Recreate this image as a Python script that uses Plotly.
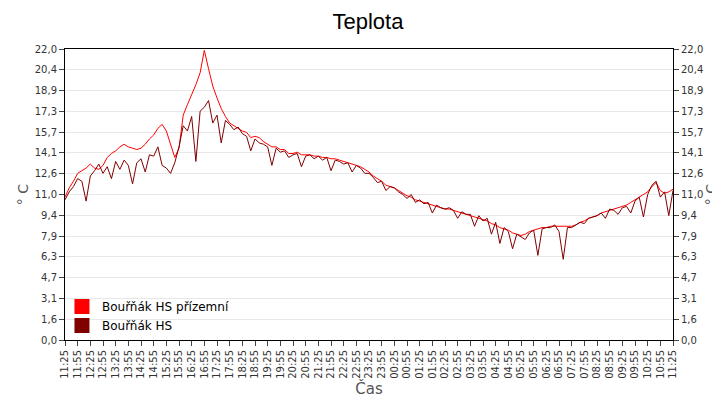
import plotly.graph_objects as go
import pandas as pd

dark = [10.6,11.2,11.6,12.2,12.0,10.5, 12.4,12.8,13.3,12.6,13.1,12.2, 13.5,12.9,13.6,13.2,11.8,13.4,
        13.7,12.7,14.0,13.9,14.6,13.2, 13.0,12.6,13.4,14.6,16.2,15.8, 16.9,13.5,17.3,17.6,18.1,16.4,
        17.0,14.9,16.6,16.3,15.9,16.1, 15.6,15.4,14.3,15.2,14.9,14.8, 14.6,13.2,14.5,14.2,14.3,13.8,
        14.0,14.1,13.1,13.9,14.0,13.7, 13.9,13.6,13.8,12.8,13.6,13.5, 13.3,13.4,12.7,13.2,13.0,12.6,
        12.6,12.3,11.9,12.0,11.3,11.6, 11.5,11.2,11.0,10.7,11.0,10.4, 10.6,10.3,10.4,9.6,10.2,10.0,
        9.9,10.0,9.8,9.2,9.7,9.5, 9.5,8.6,9.4,9.0,9.2,8.0, 8.9,7.3,8.5,8.2,6.9,8.0,
        7.8,7.6,8.1,8.3,6.4,8.4, 8.5,8.5,8.7,8.2,6.1,8.5, 8.5,8.7,8.9,8.8,9.2,9.3,
        9.4,9.6,9.2,9.9,9.8,9.5, 10.0,10.1,9.6,10.5,10.8,9.3, 11.0,11.7,12.0,10.8,11.2,9.4, 11.3]
red = [10.8,11.5,12.0,12.6,12.8,13.0, 13.3,13.0,12.9,13.2,13.8,14.1, 14.3,14.6,14.8,14.6,14.5,14.4,
       14.5,14.8,15.2,15.5,16.0,16.3, 15.8,14.8,13.8,14.5,17.0,17.8, 18.5,19.3,20.2,21.9,20.5,19.2,
       18.3,17.5,16.9,16.4,16.2,16.0, 15.8,15.7,15.3,15.4,15.3,15.0, 14.8,14.6,14.6,14.4,14.4,14.1,
       14.1,14.2,14.0,14.0,14.0,13.9, 13.9,13.8,13.8,13.7,13.7,13.6, 13.5,13.4,13.3,13.2,13.1,12.9,
       12.7,12.4,12.2,12.0,11.7,11.6, 11.5,11.3,11.1,10.9,10.8,10.6, 10.5,10.4,10.3,10.2,10.1,10.0,
       9.9,9.9,9.8,9.7,9.6,9.5, 9.4,9.3,9.2,9.1,9.0,8.8, 8.7,8.5,8.4,8.3,8.1,8.0,
       7.9,8.0,8.2,8.3,8.4,8.5, 8.5,8.6,8.6,8.6,8.6,8.6, 8.6,8.7,8.9,9.0,9.2,9.3,
       9.4,9.6,9.7,9.8,9.9,10.0, 10.1,10.2,10.4,10.6,10.8,11.0, 11.2,11.6,11.9,11.3,11.1,11.2, 11.4]
times = pd.date_range("2020-06-01 11:25", periods=len(dark), freq="10min")
tick_times = pd.date_range("2020-06-01 11:25", "2020-06-02 11:25", freq="30min")
tick_labels = [t.strftime("%H:%M") for t in tick_times]
y_ticks = [0, 1.57, 3.14, 4.71, 6.29, 7.86, 9.43, 11.0, 12.57, 14.14, 15.71, 17.29, 18.86, 20.43, 22.0]
y_labels = ["0,0","1,6","3,1","4,7","6,3","7,9","9,4","11,0","12,6","14,1","15,7","17,3","18,9","20,4","22,0"]
names = ["Bouřňák HS přízemní", "Bouřňák HS"]
colors = ["#ff0000", "#800000"]

fig = go.Figure()
fig.add_trace(go.Scatter(x=times, y=red, mode="lines", line=dict(color=colors[0], width=1), showlegend=False))
fig.add_trace(go.Scatter(x=times, y=dark, mode="lines", line=dict(color=colors[1], width=1), showlegend=False))
for n, c in zip(names, colors):
    fig.add_trace(go.Scatter(x=[None], y=[None], mode="markers", name=n,
                             marker=dict(symbol="square", size=15, color=c)))
fig.add_trace(go.Scatter(x=[times[0]], y=[None], yaxis="y2", showlegend=False))

axfont = dict(family="DejaVu Sans", size=10, color="#333")
fig.update_layout(
    width=720, height=400, plot_bgcolor="white", paper_bgcolor="white",
    margin=dict(l=57, r=55, t=41, b=68),
    title=dict(text="Teplota", x=0.5, xanchor="center", y=0.985, yanchor="top",
               font=dict(family="Liberation Sans", size=22, color="black")),
    font=axfont,
    xaxis=dict(range=[tick_times[0], tick_times[-1]], tickvals=tick_times, ticktext=tick_labels,
               tickangle=-90, ticks="outside", ticklen=5, showgrid=False, showline=True,
               linecolor="black", mirror=True, tickfont=axfont, automargin=False,
               title=dict(text="Čas", font=dict(family="DejaVu Sans", size=15, color="#555"), standoff=5)),
    yaxis=dict(range=[0, 22], tickvals=y_ticks, ticktext=y_labels, ticks="outside", ticklen=5,
               showgrid=True, gridcolor="#e8e8e8", showline=True, linecolor="black", mirror=True,
               zeroline=False, tickfont=axfont, automargin=False,
               title=dict(text="° C", font=dict(family="DejaVu Sans", size=14, color="#555"), standoff=2)),
    yaxis2=dict(range=[0, 22], tickvals=y_ticks, ticktext=y_labels, overlaying="y", side="right",
                ticks="outside", ticklen=5, showgrid=False, zeroline=False, tickfont=axfont, automargin=False,
                title=dict(text="° C", font=dict(family="DejaVu Sans", size=14, color="#555"), standoff=2)),
    legend=dict(x=-0.005, y=0, xanchor="left", yanchor="bottom", bgcolor="rgba(0,0,0,0)",
                font=dict(family="DejaVu Sans", size=12, color="black"), tracegroupgap=0),
)
fig.write_html("out.html")
